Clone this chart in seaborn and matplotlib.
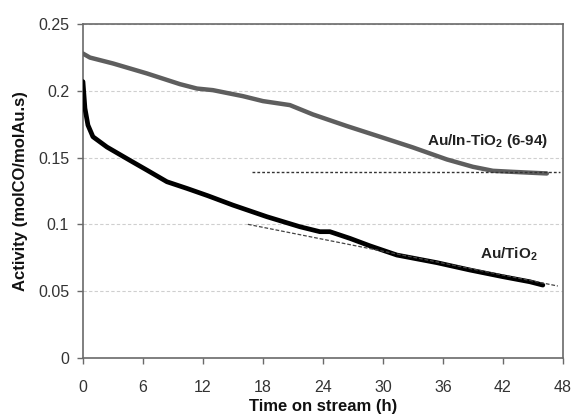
import matplotlib
matplotlib.use("Agg")
import matplotlib.pyplot as plt
import seaborn as sns
import pandas as pd

# ---- data ----
gray_t = [0.0, 0.7, 3.0, 6.4, 9.7, 11.4, 13.0, 16.0, 18.0, 20.7, 23.0, 26.4, 30.0,
          33.0, 36.4, 39.0, 41.0, 43.0, 46.4]
gray_v = [0.228, 0.225, 0.2206, 0.2131, 0.2051, 0.2018, 0.2006, 0.1961, 0.1924,
          0.1894, 0.1824, 0.1737, 0.1650, 0.1577, 0.1487, 0.1432, 0.1402, 0.1394, 0.1382]

black_t = [0.0, 0.2, 0.5, 1.0, 2.4, 4.7, 6.4, 8.4, 10.4, 12.5, 15.0, 18.4, 21.7,
           23.7, 24.7, 26.7, 28.7, 31.4, 35.4, 38.7, 42.0, 44.7, 46.0]
black_v = [0.207, 0.187, 0.1744, 0.1657, 0.158, 0.148, 0.1407, 0.132, 0.127, 0.1215,
           0.1145, 0.1058, 0.0983, 0.0946, 0.0946, 0.0896, 0.0840, 0.0771, 0.0714,
           0.0659, 0.0609, 0.0571, 0.0546]

fit_in_t = [16.9, 47.7]
fit_in_v = [0.139, 0.139]
fit_ti_t = [16.5, 47.5]
fit_ti_v = [0.1001, 0.0539]

x_ticks = [0, 6, 12, 18, 24, 30, 36, 42, 48]
y_ticks = [0, 0.05, 0.1, 0.15, 0.2, 0.25]
y_tick_labels = ["0", "0.05", "0.1", "0.15", "0.2", "0.25"]

label_in = r"Au/In-TiO$_{\mathbf{2}}$ (6-94)"
label_ti = r"Au/TiO$_{\mathbf{2}}$"
x_label = "Time on stream (h)"
y_label = "Activity (molCO/molAu.s)"

# ---- style ----
sns.set_style("white")
plt.rcParams["font.family"] = ["Liberation Sans", "DejaVu Sans"]
plt.rcParams["mathtext.fontset"] = "custom"
plt.rcParams["mathtext.rm"] = "Liberation Sans"
plt.rcParams["mathtext.bf"] = "Liberation Sans:bold"
plt.rcParams["mathtext.it"] = "Liberation Sans:italic"

fig = plt.figure(figsize=(5.72, 4.17), dpi=100)
ax = fig.add_axes([0.145, 0.1415, 0.839, 0.8005])

df_in = pd.DataFrame({"t": gray_t, "v": gray_v})
df_ti = pd.DataFrame({"t": black_t, "v": black_v})
df_fin = pd.DataFrame({"t": fit_in_t, "v": fit_in_v})
df_fti = pd.DataFrame({"t": fit_ti_t, "v": fit_ti_v})

sns.lineplot(data=df_in, x="t", y="v", ax=ax, color="#5e5e5e", linewidth=3.2,
             sort=False, estimator=None, zorder=3)
sns.lineplot(data=df_ti, x="t", y="v", ax=ax, color="black", linewidth=3.4,
             sort=False, estimator=None, zorder=3)
sns.lineplot(data=df_fin, x="t", y="v", ax=ax, color="#333333", linewidth=1.0,
             linestyle=(0, (2, 1.5)), sort=False, estimator=None, zorder=4)
sns.lineplot(data=df_fti, x="t", y="v", ax=ax, color="#444444", linewidth=0.9,
             linestyle=(0, (3, 1.5)), sort=False, estimator=None, zorder=4)

ax.set_xlim(0, 48)
ax.set_ylim(0, 0.25)
ax.set_xticks(x_ticks)
ax.set_xticklabels([str(v) for v in x_ticks])
ax.set_yticks(y_ticks)
ax.set_yticklabels(y_tick_labels)

ax.yaxis.grid(True, color="#cfcfcf", linestyle=(0, (3, 2)), linewidth=0.8)
ax.xaxis.grid(False)
ax.set_axisbelow(True)

for s in ax.spines.values():
    s.set_color("#6a6a6a")
    s.set_linewidth(1.2)

ax.tick_params(axis="both", which="major", direction="out", length=4, width=1.0,
               color="#6a6a6a", labelsize=11.5, labelcolor="#333333")
ax.tick_params(axis="x", pad=12)
ax.tick_params(axis="y", pad=6)
ax.tick_params(left=True, bottom=True)

ax.set_xlabel(x_label, fontsize=12, fontweight="bold", labelpad=3, color="#111111")
ax.set_ylabel(y_label, fontsize=12, fontweight="bold", labelpad=7, color="#111111")

ax.text(34.4, 0.1628, label_in, fontsize=11, fontweight="bold", color="#222222",
        ha="left", va="center")
ax.text(39.7, 0.0775, label_ti, fontsize=11, fontweight="bold", color="#222222",
        ha="left", va="center")

fig.savefig("out.png", dpi=100)
